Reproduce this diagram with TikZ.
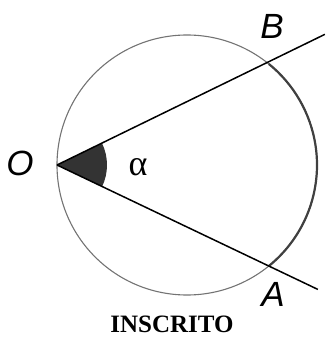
\documentclass[tikz,border=0pt]{standalone}
\usepackage{fontspec}
\setsansfont{Liberation Sans}
\newfontfamily\greekfont{Liberation Serif}
\usepackage{tikz}

\tikzset{
    ptlabel/.style={font=\sffamily\itshape\fontsize{35}{40}\selectfont},
    ray/.style={line width=1.5},
}

\begin{document}
\begin{tikzpicture}[x=1pt,y=1pt]
    \useasboundingbox (0,0) rectangle (325,337);
    \coordinate (C) at (187,172);
    \coordinate (O) at ([shift={(180:130)}]C);
    \coordinate (A) at ([shift={(-51:130)}]C);
    \coordinate (B) at ([shift={(51:130)}]C);
    \coordinate (Aend) at ([shift={(-25.5:289)}]O);
    \coordinate (Bend) at ([shift={(26:298)}]O);
    % circle and the arc AB
    \draw[black!55, line width=1.1] (C) circle (130);
    \draw[black!75, line width=2.2] (A) arc (-51:51:130);
    % the angle
    \fill[black!80] (O) -- ++(-25.7:50) arc (-25.7:25.7:50) -- cycle;
    \draw[ray] (O) -- (Bend);
    \draw[ray] (O) -- (Aend);
    \node[ptlabel] at (20,174) (labO) {O};
    \node[ptlabel] at (272,311) (labB) {B};
    \node[ptlabel] at (273,43) (labA) {A};
    \node[font=\greekfont\fontsize{36}{40}\selectfont] at (138,170) (alpha) {α};
    \node[inner sep=0, font=\greekfont\bfseries\fontsize{25}{30}\selectfont] at (172,13) (title) {INSCRITO};
\end{tikzpicture}
\end{document}
